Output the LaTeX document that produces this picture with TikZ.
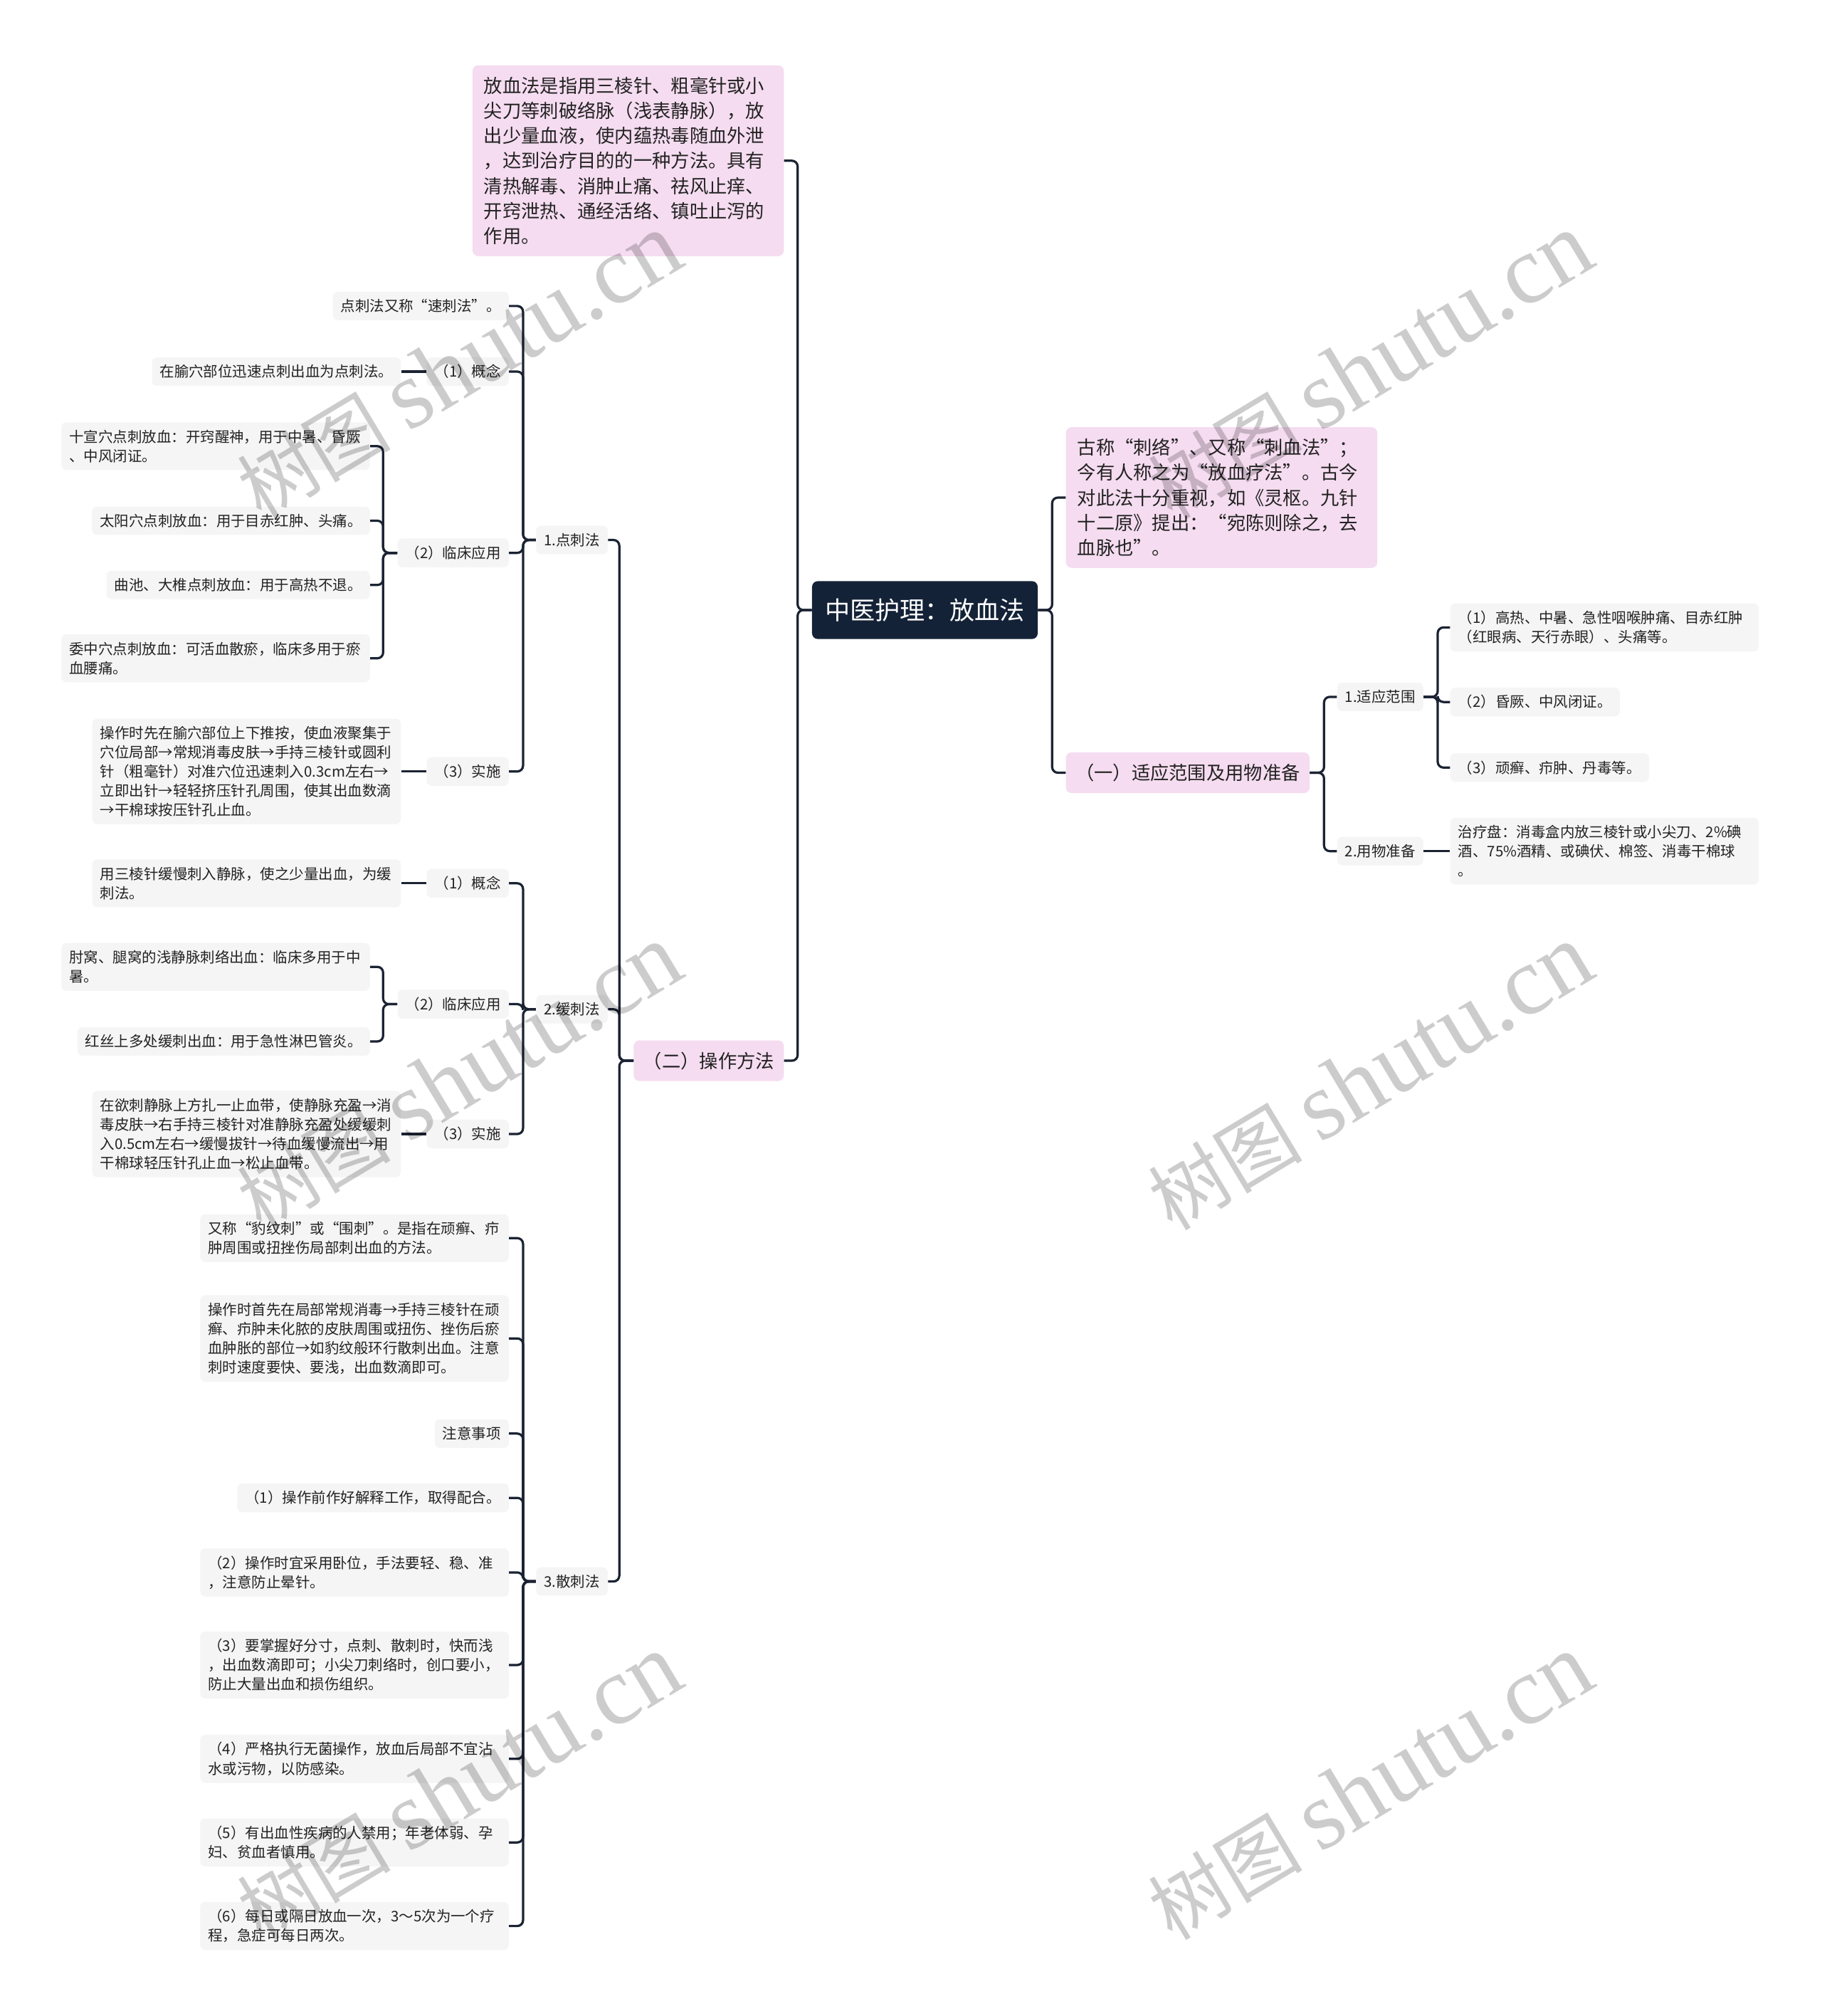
\documentclass[tikz,border=0pt]{standalone}
\usepackage{fontspec}
\setmainfont{Noto Sans CJK SC}
\newfontfamily\wmlatin{Liberation Serif}
\usepackage{xcolor}
\definecolor{tcmnavy}{HTML}{142237}
\definecolor{tcmline}{HTML}{1B2333}
\definecolor{tcmpink}{HTML}{F5DCF0}
\definecolor{tcmgray}{HTML}{F5F5F5}
\definecolor{tcmtext}{HTML}{222222}
\usepackage{tikz}
\usetikzlibrary{positioning}

\begin{document}
\begin{tikzpicture}[x=0.9pt,y=-0.9pt,
  leaf/.style={fill=tcmgray,rounded corners=3.5pt,inner xsep=5.5pt,inner ysep=5.2pt,
    text=tcmtext,font=\fontsize{10.2}{13.5}\selectfont},
  wide/.style={leaf,text width=205pt,align=left},
  pinkbox/.style={fill=tcmpink,rounded corners=4pt,inner xsep=6.7pt,inner ysep=8pt,
    text=tcmtext,font=\fontsize{13.1}{17.55}\selectfont},
  pinkwide/.style={pinkbox,inner xsep=8pt,text width=202pt,align=left},
  rootbox/.style={fill=tcmnavy,text=white,rounded corners=4pt,inner xsep=9pt,
    minimum height=40.5pt,font=\fontsize{17.5}{21}\selectfont},
  link/.style={draw=tcmline,line width=1.6pt,rounded corners=4pt},
  wmark/.style={rotate=31,text=black,text opacity=0.2,font=\fontsize{54}{54}\selectfont}]
% page
\fill[white] (0,0) rectangle (1417,1568);
\useasboundingbox (0,0) rectangle (1417,1568);
% root
\node[rootbox] (root) at (719.5,474.5) {中医护理：放血法};
% main branches
\node[pinkwide,anchor=east] (intro) at (610,125)
  {放血法是指用三棱针、粗毫针或小\\尖刀等刺破络脉（浅表静脉），放\\出少量血液，使内蕴热毒随血外泄\\，达到治疗目的的一种方法。具有\\清热解毒、消肿止痛、祛风止痒、\\开窍泄热、通经活络、镇吐止泻的\\作用。};
\node[pinkbox,anchor=east] (method) at (610,825) {（二）操作方法};
\node[pinkwide,anchor=west] (alias) at (829,387)
  {古称“刺络”、又称“刺血法”；\\今有人称之为“放血疗法”。古今\\对此法十分重视，如《灵枢。九针\\十二原》提出：“宛陈则除之，去\\血脉也”。};
\node[pinkbox,anchor=west] (scope) at (829,601) {（一）适应范围及用物准备};
% right side: scope and tools
\node[leaf,anchor=west] (range) at (1040,542) {1.适应范围};
\node[leaf,anchor=west] (tools) at (1040,662) {2.用物准备};
\node[wide,anchor=west] (r1) at (1128,488) {（1）高热、中暑、急性咽喉肿痛、目赤红肿\\（红眼病、天行赤眼）、头痛等。};
\node[leaf,anchor=west] (r2) at (1128,546) {（2）昏厥、中风闭证。};
\node[leaf,anchor=west] (r3) at (1128,597) {（3）顽癣、疖肿、丹毒等。};
\node[wide,anchor=west] (kit) at (1128,662) {治疗盘：消毒盒内放三棱针或小尖刀、2\%碘\\酒、75\%酒精、或碘伏、棉签、消毒干棉球\\。};
% left side: three methods
\node[leaf,anchor=east] (dian) at (473,420) {1.点刺法};
\node[leaf,anchor=east] (huan) at (473,785) {2.缓刺法};
\node[leaf,anchor=east] (san) at (473,1230) {3.散刺法};
% 1. dian
\node[leaf,anchor=east] (dAlias) at (396,238) {点刺法又称“速刺法”。};
\node[leaf,anchor=east] (dConcept) at (396,289) {（1）概念};
\node[leaf,anchor=east] (dClinic) at (396,430) {（2）临床应用};
\node[leaf,anchor=east] (dDo) at (396,600) {（3）实施};
\node[leaf,anchor=east] (dConceptT) at (312,289) {在腧穴部位迅速点刺出血为点刺法。};
\node[wide,anchor=east] (dC1) at (288,347) {十宣穴点刺放血：开窍醒神，用于中暑、昏厥\\、中风闭证。};
\node[leaf,anchor=east] (dC2) at (288,405) {太阳穴点刺放血：用于目赤红肿、头痛。};
\node[leaf,anchor=east] (dC3) at (288,455) {曲池、大椎点刺放血：用于高热不退。};
\node[wide,anchor=east] (dC4) at (288,512) {委中穴点刺放血：可活血散瘀，临床多用于瘀\\血腰痛。};
\node[wide,anchor=east] (dDoT) at (312,600) {操作时先在腧穴部位上下推按，使血液聚集于\\穴位局部→常规消毒皮肤→手持三棱针或圆利\\针（粗毫针）对准穴位迅速刺入0.3cm左右→\\立即出针→轻轻挤压针孔周围，使其出血数滴\\→干棉球按压针孔止血。};
% 2. huan
\node[leaf,anchor=east] (hConcept) at (396,687) {（1）概念};
\node[leaf,anchor=east] (hClinic) at (396,781) {（2）临床应用};
\node[leaf,anchor=east] (hDo) at (396,882) {（3）实施};
\node[wide,anchor=east] (hConceptT) at (312,687) {用三棱针缓慢刺入静脉，使之少量出血，为缓\\刺法。};
\node[wide,anchor=east] (hC1) at (288,752) {肘窝、腿窝的浅静脉刺络出血：临床多用于中\\暑。};
\node[leaf,anchor=east] (hC2) at (288,810) {红丝上多处缓刺出血：用于急性淋巴管炎。};
\node[wide,anchor=east] (hDoT) at (312,882) {在欲刺静脉上方扎一止血带，使静脉充盈→消\\毒皮肤→右手持三棱针对准静脉充盈处缓缓刺\\入0.5cm左右→缓慢拔针→待血缓慢流出→用\\干棉球轻压针孔止血→松止血带。};
% 3. san
\node[wide,anchor=east] (s1) at (396,963) {又称“豹纹刺”或“围刺”。是指在顽癣、疖\\肿周围或扭挫伤局部刺出血的方法。};
\node[wide,anchor=east] (s2) at (396,1041) {操作时首先在局部常规消毒→手持三棱针在顽\\癣、疖肿未化脓的皮肤周围或扭伤、挫伤后瘀\\血肿胀的部位→如豹纹般环行散刺出血。注意\\刺时速度要快、要浅，出血数滴即可。};
\node[leaf,anchor=east] (s3) at (396,1115) {注意事项};
\node[leaf,anchor=east] (s4) at (396,1165) {（1）操作前作好解释工作，取得配合。};
\node[wide,anchor=east] (s5) at (396,1223) {（2）操作时宜采用卧位，手法要轻、稳、准\\，注意防止晕针。};
\node[wide,anchor=east] (s6) at (396,1295) {（3）要掌握好分寸，点刺、散刺时，快而浅\\，出血数滴即可；小尖刀刺络时，创口要小，\\防止大量出血和损伤组织。};
\node[wide,anchor=east] (s7) at (396,1368) {（4）严格执行无菌操作，放血后局部不宜沾\\水或污物，以防感染。};
\node[wide,anchor=east] (s8) at (396,1433) {（5）有出血性疾病的人禁用；年老体弱、孕\\妇、贫血者慎用。};
\node[wide,anchor=east] (s9) at (396,1498) {（6）每日或隔日放血一次，3～5次为一个疗\\程，急症可每日两次。};
% connectors, rightwards
\foreach \c in {alias,scope} \draw[link] (root.east) -- ++(11,0) |- (\c.west);
\foreach \c in {range,tools} \draw[link] (scope.east) -- ++(11,0) |- (\c.west);
\foreach \c in {r1,r2,r3} \draw[link] (range.east) -- ++(11,0) |- (\c.west);
\draw[link] (tools.east) -- (kit.west);
% connectors, leftwards
\foreach \c in {intro,method} \draw[link] (root.west) -- ++(-11,0) |- (\c.east);
\foreach \c in {dian,huan,san} \draw[link] (method.west) -- ++(-11,0) |- (\c.east);
\foreach \c in {dAlias,dConcept,dClinic,dDo} \draw[link] (dian.west) -- ++(-10,0) |- (\c.east);
\foreach \c in {dC1,dC2,dC3,dC4} \draw[link] (dClinic.west) -- ++(-11,0) |- (\c.east);
\draw[link] (dConcept.west) -- (dConceptT.east);
\draw[link] (dDo.west) -- (dDoT.east);
\foreach \c in {hConcept,hClinic,hDo} \draw[link] (huan.west) -- ++(-10,0) |- (\c.east);
\foreach \c in {hC1,hC2} \draw[link] (hClinic.west) -- ++(-11,0) |- (\c.east);
\draw[link] (hConcept.west) -- (hConceptT.east);
\draw[link] (hDo.west) -- (hDoT.east);
\foreach \c in {s1,s2,s3,s4,s5,s6,s7,s8,s9} \draw[link] (san.west) -- ++(-10,0) |- (\c.east);
% watermarks
\foreach \wx/\wy in {357/285,1066/285,357/838,1066/838,357/1390,1066/1390}
  \node[wmark] (wm-\wx-\wy) at (\wx,\wy) {树图 {\wmlatin\fontsize{68}{68}\selectfont shutu.cn}};
\end{tikzpicture}
\end{document}
